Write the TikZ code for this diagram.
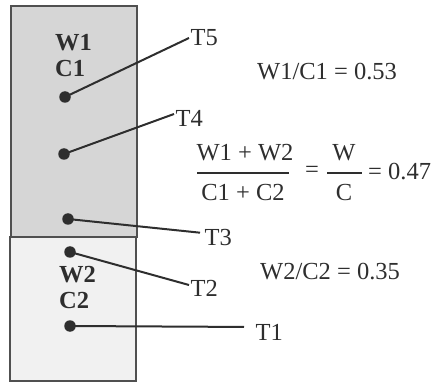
\documentclass[tikz,border=0pt]{standalone}
\usepackage{fontspec}
\setmainfont{Liberation Serif}
\definecolor{boxline}{HTML}{505050}
\definecolor{upfill}{HTML}{D6D6D6}
\definecolor{lowfill}{HTML}{F1F1F1}
\definecolor{ink}{HTML}{2E2E2E}
\tikzset{
  zone/.style={draw=boxline, line width=2pt},
  dot/.style={circle, fill=ink, inner sep=0pt, minimum size=11.5pt},
  lead/.style={draw=ink, line width=2pt},
  tlabel/.style={anchor=west, inner sep=1.5pt, text=ink, font=\fontsize{24.5}{28}\selectfont},
  txt/.style={inner sep=0pt, text=ink, font=\fontsize{24.5}{28}\selectfont},
  bold/.style={anchor=west, inner sep=0pt, align=left, text=ink, font=\fontsize{24.5}{26}\selectfont\bfseries},
  bar/.style={draw=ink, line width=1.5pt}
}
\begin{document}
\begin{tikzpicture}[x=1pt, y=-1pt]
\useasboundingbox (0,0) rectangle (434,382);
% zones
\path[zone, fill=upfill] (11,6) rectangle (137,237);
\path[zone, fill=lowfill] (10,237) rectangle (136,381);
% zone labels
\node[bold] (wc1) at (55,56) {W1\\C1};
\node[bold] (wc2) at (59,288) {W2\\C2};
% dots
\node[dot] (d5) at (65,97) {};
\node[dot] (d4) at (64,154) {};
\node[dot] (d3) at (68,219) {};
\node[dot] (d2) at (70,252) {};
\node[dot] (d1) at (70,326) {};
% labels
\node[tlabel] (t5) at (189,38) {T5};
\node[tlabel] (t4) at (174,118) {T4};
\node[tlabel] (t3) at (203,238) {T3};
\node[tlabel] (t2) at (189,288) {T2};
\node[tlabel] (t1) at (254,332) {T1};
% leaders
\draw[lead] (d5.center) -- (t5.west);
\draw[lead] (d4.center) -- ([yshift=4pt]t4.west);
\draw[lead, shorten >=3pt] (d3.center) -- ([yshift=5pt]t3.west);
\draw[lead] (d2.center) -- ([yshift=3pt]t2.west);
\draw[lead, shorten >=10pt] (d1.center) -- ([yshift=5pt]t1.west);
% ratios
\node[txt, anchor=west] (r1) at (257,72) {W1/C1 = 0.53};
\node[txt, anchor=west] (r2) at (260,272) {W2/C2 = 0.35};
% fraction
\node[txt] (num1) at (245,153) {W1 + W2};
\node[txt] (den1) at (243,193) {C1 + C2};
\draw[bar] (197,173) -- (289,173);
\node[txt] (eq1) at (312,172) {=};
\node[txt] (num2) at (344,153) {W};
\node[txt] (den2) at (344,193) {C};
\draw[bar] (327,173) -- (362,173);
\node[txt, anchor=west] (res) at (368,172) {= 0.47};
\end{tikzpicture}
\end{document}
